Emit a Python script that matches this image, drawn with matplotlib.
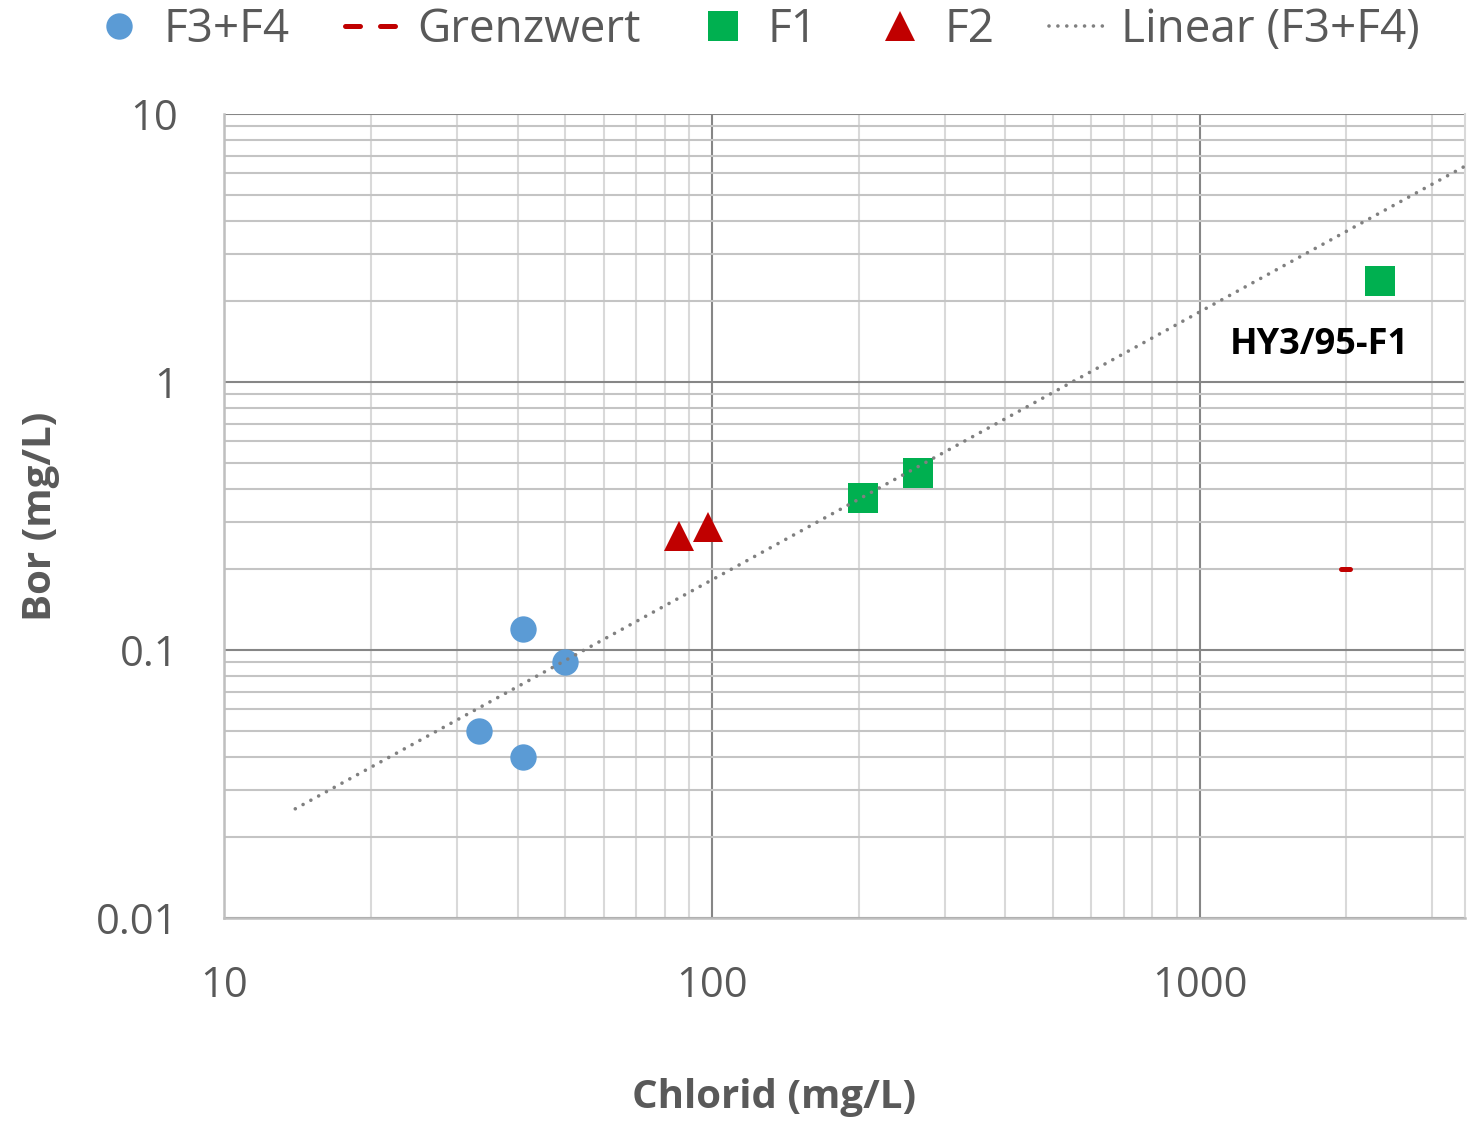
import numpy as np
import matplotlib
matplotlib.use("Agg")
import matplotlib.pyplot as plt
from matplotlib.ticker import FixedLocator, LogLocator, NullFormatter, FixedFormatter

plt.rcParams['font.family'] = ['Open Sans', 'DejaVu Sans']

# Messwerte Chlorid / Bor (mg/L)
f34_chlorid = [41, 50, 33.3, 41]
f34_bor = [0.12, 0.09, 0.05, 0.04]

f1_chlorid = [204, 265, 2340]
f1_bor = [0.37, 0.457, 2.38]

f2_chlorid = [85.5, 98]
f2_bor = [0.266, 0.288]

grenz_chlorid = [1950, 2030]
grenz_bor = [0.2, 0.2]

trend_range = [14, 3500]

x_ticks = [10, 100, 1000]
x_labels = ["10", "100", "1000"]
y_ticks = [0.01, 0.1, 1, 10]
y_labels = ["0.01", "0.1", "1", "10"]

label_text = "HY3/95-F1"

BLUE = "#5B9BD5"
RED = "#C00000"
GREEN = "#00B050"
DOTS = "#808080"
TXT = "#595959"

fig = plt.figure(figsize=(14.67, 11.21), dpi=100)
ax = fig.add_axes([224 / 1467, 1 - 918 / 1121, (1465 - 224) / 1467, (918 - 114) / 1121])
ax.set_xscale("log")
ax.set_yscale("log")
ax.set_xlim(10, 3500)
ax.set_ylim(0.01, 10)

# Gitter
ax.xaxis.set_major_locator(FixedLocator(x_ticks))
ax.yaxis.set_major_locator(FixedLocator(y_ticks))
ax.xaxis.set_minor_locator(LogLocator(base=10, subs=np.arange(2, 10)))
ax.yaxis.set_minor_locator(LogLocator(base=10, subs=np.arange(2, 10)))
ax.xaxis.set_major_formatter(FixedFormatter(x_labels))
ax.yaxis.set_major_formatter(FixedFormatter(y_labels))
ax.xaxis.set_minor_formatter(NullFormatter())
ax.yaxis.set_minor_formatter(NullFormatter())
ax.set_axisbelow(True)
ax.grid(which="major", axis="both", color="#868686", lw=1.5)
ax.grid(which="minor", axis="x", color="#D9D9D9", lw=1.5)
ax.grid(which="minor", axis="y", color="#C4C4C4", lw=1.5)
ax.tick_params(which="both", length=0)
ax.tick_params(axis="x", pad=34, labelsize=30, labelcolor=TXT)
ax.tick_params(axis="y", pad=33, labelsize=30, labelcolor=TXT)

for side in ("left", "bottom"):
    ax.spines[side].set_color("#BFBFBF")
    ax.spines[side].set_linewidth(1.8)
ax.spines["top"].set_visible(False)
ax.spines["right"].set_color("#D9D9D9")
ax.spines["right"].set_linewidth(1.5)

# Datenreihen
ax.plot(f34_chlorid, f34_bor, ls="none", marker="o", ms=19, mfc=BLUE, mec=BLUE,
        mew=0, label="F3+F4", zorder=3)
ax.plot(grenz_chlorid, grenz_bor, color=RED, lw=3.6, ls=(0, (3, 4)),
        dash_capstyle="round", solid_capstyle="round", label="Grenzwert", zorder=3)
ax.plot(f1_chlorid, f1_bor, ls="none", marker="s", ms=22, mfc=GREEN, mec=GREEN,
        mew=0, label="F1", zorder=3)
ax.plot(f2_chlorid, f2_bor, ls="none", marker="^", ms=22, mfc=RED, mec=RED,
        mew=0, label="F2", zorder=3)

# Lineare Trendlinie durch den Ursprung (F3+F4)
xs = np.array(f34_chlorid, dtype=float)
ys = np.array(f34_bor, dtype=float)
slope = np.sum(xs * ys) / np.sum(xs * xs)
tx = np.geomspace(trend_range[0], trend_range[1], 200)
ax.plot(tx, slope * tx, color=DOTS, lw=2.6, ls=(0, (0.01, 2.45)),
        dash_capstyle="round", label="Linear (F3+F4)", zorder=4)

ax.annotate(label_text, xy=(f1_chlorid[2], f1_bor[2]), xytext=(-60, -64),
            textcoords="offset pixels", ha="center", va="center",
            fontsize=26, fontweight="bold", color="black")

ax.set_xlabel("Chlorid (mg/L)", fontsize=29, fontweight="bold", color=TXT)
ax.set_ylabel("Bor (mg/L)", fontsize=29, fontweight="bold", color=TXT)
ax.xaxis.set_label_coords((774 - 224) / (1465 - 224), -(1078 - 918) / (918 - 114))
ax.yaxis.set_label_coords(-(224 - 60) / (1465 - 224), 0.5)

leg = ax.legend(loc="center", bbox_to_anchor=(756 / 1467, 1 - 30 / 1121),
                bbox_transform=fig.transFigure, ncol=5, frameon=False,
                fontsize=33, handlelength=1.2, handletextpad=0.37,
                columnspacing=1.2, borderpad=0, labelcolor=TXT)

fig.savefig("out.png", dpi=100)
